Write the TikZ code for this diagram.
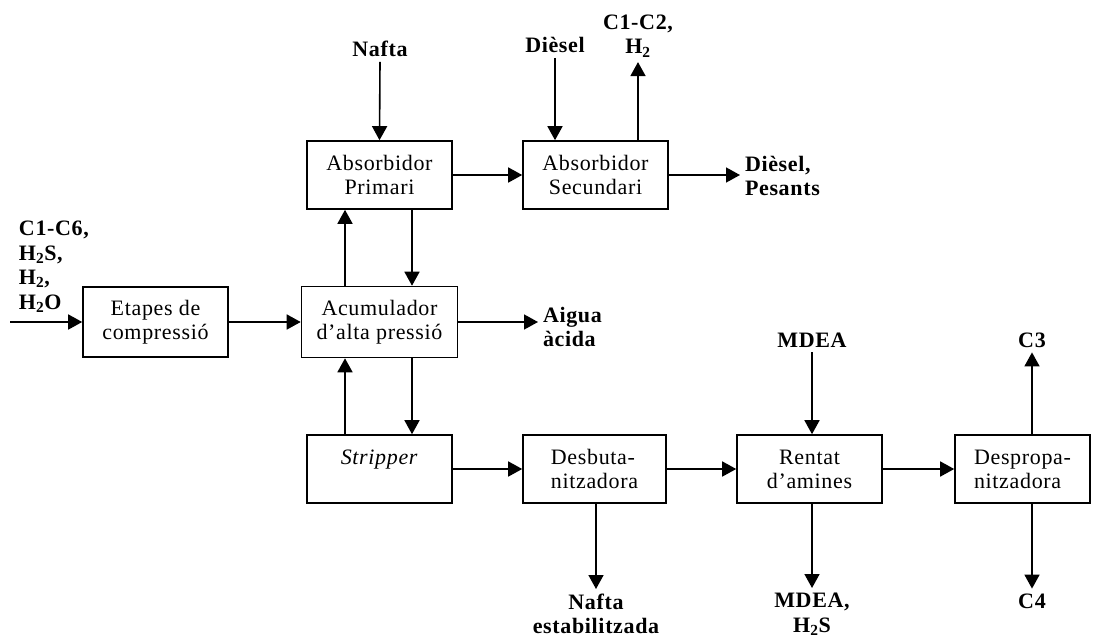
\documentclass[tikz,border=0pt]{standalone}
\usepackage{fontspec}
\setmainfont{Liberation Serif}
\usetikzlibrary{arrows.meta}

\begin{document}
\begin{tikzpicture}[x=1pt, y=-1pt, line width=1.6pt,
    box/.style={draw, rectangle, minimum width=145pt, minimum height=68pt, inner sep=0pt, align=center, font=\fontsize{22}{24}\selectfont\addfontfeatures{LetterSpace=3}},
    stream/.style={font=\bfseries\fontsize{22}{24.5}\selectfont\addfontfeatures{LetterSpace=3}, inner sep=0pt, outer sep=5pt, align=center},
    flow/.style={-{Triangle[length=14pt, width=15pt]}}]

    \useasboundingbox (0, 0) rectangle (1093, 637);

    % Units: main line
    \node (etap) at (155.5, 322) [box, minimum height=70pt] {Etapes de\\compressió};
    \node (acum) at (379.5, 322) [box, minimum width=156pt, minimum height=71pt] {Acumulador\\d’alta pressió};
    \node (prim) at (379.5, 175) [box] {Absorbidor\\Primari};
    \node (sec) at (595.5, 175) [box] {Absorbidor\\Secundari};

    % Units: bottom line
    \node (strip) at (379.5, 469) [box] {\textit{Stripper}\\\mbox{}};
    \node (desb) at (594.5, 469) [box, minimum width=143pt, align=left] {Desbuta-\\nitzadora};
    \node (rent) at (809.5, 469) [box] {Rentat\\d’amines};
    \node (desp) at (1022.5, 469) [box, minimum width=135pt, align=left] {Despropa-\\nitzadora};

    % Streams in and out
    \coordinate (feed) at (10, 322);
    \node (gas) at (19, 221) [stream, anchor=north west, align=left, outer sep=0pt] {C1-C6,\\H\textsubscript{2}S,\\H\textsubscript{2},\\H\textsubscript{2}O};
    \node (aigua) at (538, 327) [stream, anchor=west, align=left] {Aigua\\àcida};
    \node (nafta) at (380, 49) [stream] {Nafta};
    \node (diesel) at (555, 45) [stream] {Dièsel};
    \node (lleu) at (638, 36) [stream] {C1-C2,\\H\textsubscript{2}};
    \node (pesants) at (740, 176) [stream, anchor=west, align=left] {Dièsel,\\Pesants};
    \node (nest) at (596, 589) [stream, anchor=north] {Nafta\\estabilitzada};
    \node (mdea) at (812, 340) [stream] {MDEA};
    \node (amina) at (812, 588) [stream, anchor=north] {MDEA,\\H\textsubscript{2}S};
    \node (c3) at (1032, 340) [stream] {C3};
    \node (c4) at (1032, 601) [stream] {C4};

    % Connectors
    \draw[flow] (feed) -- (etap.west);
    \draw[flow] (etap.east) -- (acum.west);
    \draw[flow] (acum.east) -- (acum.east -| aigua.west);
    \draw[flow] (nafta.south) -- (prim.north);
    \draw[flow] (prim.east) -- (sec.west);
    \draw[flow] (diesel.south) -- ([xshift=-40.5pt]sec.north);
    \draw[flow] ([xshift=42.5pt]sec.north) -- (lleu.south);
    \draw[flow] (sec.east) -- (sec.east -| pesants.west);

    \draw[flow] ([xshift=-34.5pt]acum.north) -- ([xshift=-34.5pt]prim.south);
    \draw[flow] ([xshift=32.5pt]prim.south) -- ([xshift=32.5pt]acum.north);
    \draw[flow] ([xshift=-34.5pt]strip.north) -- ([xshift=-34.5pt]acum.south);
    \draw[flow] ([xshift=32.5pt]acum.south) -- ([xshift=32.5pt]strip.north);

    \draw[flow] (strip.east) -- (desb.west);
    \draw[flow] (desb.east) -- (rent.west);
    \draw[flow] (rent.east) -- (desp.west);
    \draw[flow] ([xshift=1.5pt]desb.south) -- (nest.north);
    \draw[flow] (mdea.south) -- ([xshift=2.5pt]rent.north);
    \draw[flow] ([xshift=2.5pt]rent.south) -- (amina.north);
    \draw[flow] ([xshift=9.5pt]desp.north) -- (c3.south);
    \draw[flow] ([xshift=9.5pt]desp.south) -- (c4.north);

\end{tikzpicture}
\end{document}
